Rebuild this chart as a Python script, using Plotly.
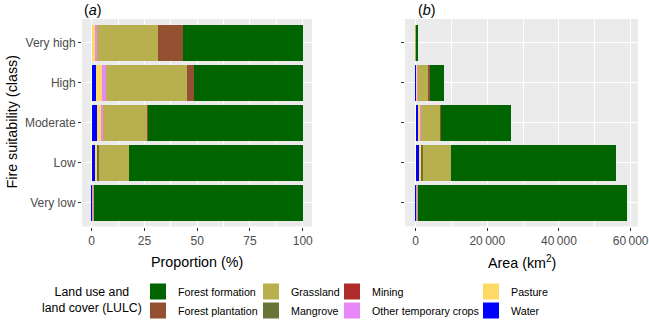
import plotly.graph_objects as go

# ---------------- data ----------------
classes = ["Very low", "Low", "Moderate", "High", "Very high"]

# Proportion (%) of each LULC class per fire-suitability class
pct_water = [0.3, 1.7, 2.4, 1.8, 0.0]
pct_pasture = [0.0, 1.1, 2.3, 3.2, 2.0]
pct_other_crops = [0.4, 0.0, 0.8, 1.9, 0.5]
pct_mining = [0.0, 0.0, 0.0, 0.0, 0.0]
pct_mangrove = [0.0, 0.8, 0.0, 0.0, 0.0]
pct_grassland = [0.3, 14.2, 21.0, 38.1, 28.8]
pct_plantation = [0.0, 0.0, 0.3, 3.5, 11.8]
pct_forest = [99.0, 82.2, 73.2, 51.5, 56.9]

# Area (km2) of each LULC class per fire-suitability class
area_water = [177, 949, 641, 144, 0]
area_pasture = [0, 614, 614, 256, 9]
area_other_crops = [236, 0, 214, 152, 2]
area_mining = [0, 0, 0, 0, 0]
area_mangrove = [0, 446, 0, 0, 0]
area_grassland = [177, 7924, 5607, 3048, 130]
area_plantation = [0, 0, 80, 280, 53]
area_forest = [58509, 45868, 19544, 4120, 256]

pct_ticks = [0, 25, 50, 75, 100]
area_ticks = [0, 20000, 40000, 60000]
area_ticktext = ["0", "20\u2009000", "40\u2009000", "60\u2009000"]

# stacking order from zero outward
series = [
    ("Water", "#0000FF", pct_water, area_water),
    ("Pasture", "#FFD966", pct_pasture, area_pasture),
    ("Other temporary crops", "#E787F8", pct_other_crops, area_other_crops),
    ("Mining", "#AF2A2A", pct_mining, area_mining),
    ("Mangrove", "#687537", pct_mangrove, area_mangrove),
    ("Grassland", "#B8AF4F", pct_grassland, area_grassland),
    ("Forest plantation", "#935132", pct_plantation, area_plantation),
    ("Forest formation", "#006400", pct_forest, area_forest),
]

# legend columns (column-major as in reference)
legend_cols = {
    "legend": ["Forest formation", "Forest plantation"],
    "legend2": ["Grassland", "Mangrove"],
    "legend3": ["Mining", "Other temporary crops"],
    "legend4": ["Pasture", "Water"],
}

W, H = 649, 322
fig = go.Figure()

for name, col, pv, av in series:
    fig.add_trace(go.Bar(y=classes, x=pv, orientation="h", name=name,
                         marker=dict(color=col, line=dict(width=0)), width=0.9,
                         showlegend=False, xaxis="x", yaxis="y"))
    fig.add_trace(go.Bar(y=classes, x=av, orientation="h", name=name,
                         marker=dict(color=col, line=dict(width=0)), width=0.9,
                         showlegend=False, xaxis="x2", yaxis="y2"))

colour = {n: c for n, c, _, _ in series}
for lg, names in legend_cols.items():
    for n in names:
        fig.add_trace(go.Scatter(x=[None], y=[None], mode="markers", name=n,
                                 marker=dict(symbol="square", size=16, color=colour[n],
                                             line=dict(width=0)),
                                 legend=lg, showlegend=True, xaxis="x", yaxis="y"))

def px(x):
    return x / W

def py(y):
    return 1 - y / H

ydom = [py(226.5), py(19)]
grid = dict(showgrid=True, gridcolor="white", gridwidth=1.1)
tickfont = dict(family="Liberation Sans, Arial, sans-serif", size=12, color="#4D4D4D")
common = dict(ticks="outside", ticklen=3, tickcolor="#333333", zeroline=False,
              automargin=False, **grid)

fig.update_layout(
    width=W, height=H,
    margin=dict(l=0, r=0, t=0, b=0, autoexpand=False),
    paper_bgcolor="white", plot_bgcolor="#EBEBEB",
    barmode="stack", bargap=0.1,
    font=dict(family="Liberation Sans, Arial, sans-serif", color="black"),
    xaxis=dict(domain=[px(82), px(312)], range=[-4.6, 104.4], tickvals=pct_ticks,
               tickfont=tickfont,
               minor=dict(dtick=12.5, tick0=0, showgrid=True, gridcolor="white", gridwidth=0.5),
               anchor="y", **common),
    yaxis=dict(domain=ydom, categoryorder="array", categoryarray=classes,
               range=[-0.6, 4.6], tickfont=tickfont, anchor="x", **common),
    xaxis2=dict(domain=[px(405), px(638)], range=[-2955, 62055], tickvals=area_ticks,
                ticktext=area_ticktext, tickfont=tickfont,
                minor=dict(dtick=10000, tick0=0, showgrid=True, gridcolor="white", gridwidth=0.5),
                anchor="y2", **common),
    yaxis2=dict(domain=ydom, categoryorder="array", categoryarray=classes,
                range=[-0.6, 4.6], showticklabels=False, anchor="x2", **common),
)

leg_font = dict(family="Liberation Sans, Arial, sans-serif", size=10.7, color="black")
leg_x = {"legend": 138, "legend2": 251, "legend3": 332, "legend4": 471}
for lg, xl in leg_x.items():
    fig.update_layout({lg: dict(x=px(xl), y=py(277), xanchor="left", yanchor="top",
                                orientation="v", font=leg_font, bgcolor="rgba(0,0,0,0)",
                                traceorder="normal", tracegroupgap=0,
                                itemsizing="trace")})

ann_font = dict(family="Liberation Sans, Arial, sans-serif", size=14.3, color="black")
fig.add_annotation(text="(<i>a</i>)", x=px(82), y=py(10), xref="paper", yref="paper",
                   xanchor="left", yanchor="middle", showarrow=False, font=ann_font)
fig.add_annotation(text="(<i>b</i>)", x=px(416), y=py(10), xref="paper", yref="paper",
                   xanchor="left", yanchor="middle", showarrow=False, font=ann_font)
fig.add_annotation(text="Proportion (%)", x=px(197), y=py(262), xref="paper", yref="paper",
                   xanchor="center", yanchor="middle", showarrow=False, font=ann_font)
fig.add_annotation(text="Area (km<sup>2</sup>)", x=px(521.5), y=py(262), xref="paper",
                   yref="paper", xanchor="center", yanchor="middle", showarrow=False,
                   font=ann_font)
fig.add_annotation(text="Fire suitability (class)", x=px(11), y=py(122.5), xref="paper",
                   yref="paper", xanchor="center", yanchor="middle", textangle=-90,
                   showarrow=False, font=ann_font)
fig.add_annotation(text="Land use and<br>land cover (LULC)", x=px(144), y=py(300),
                   xref="paper", yref="paper", xanchor="right", yanchor="middle",
                   align="center", showarrow=False,
                   font=dict(family="Liberation Sans, Arial, sans-serif", size=12.3,
                             color="black"))

fig.write_html("out.html", config={"displayModeBar": False},
               post_script="document.body.style.margin='0';document.body.style.overflow='hidden';")
